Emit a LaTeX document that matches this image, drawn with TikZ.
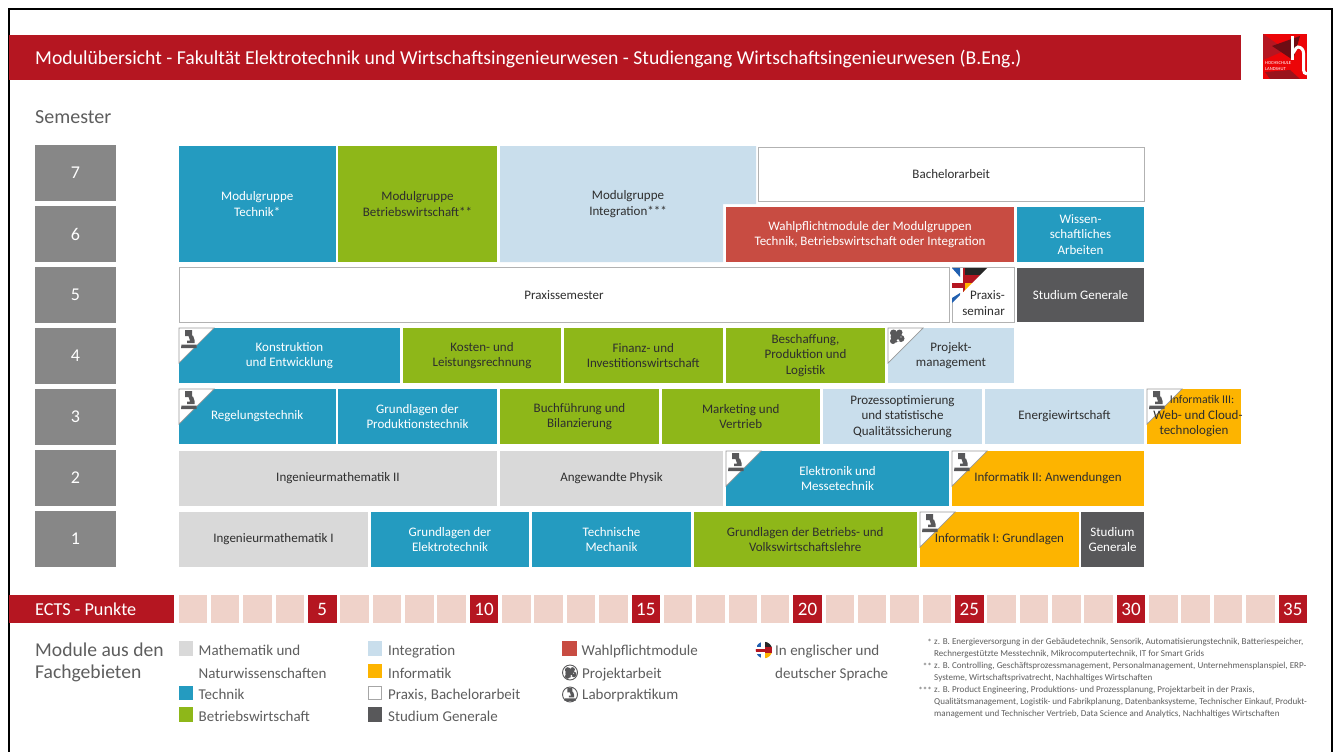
\documentclass[tikz,border=0pt]{standalone}
\usepackage{fontspec}
\setmainfont{Carlito}
\definecolor{hsred}{HTML}{B51621}
\definecolor{cblue}{HTML}{249BC0}
\definecolor{cgreen}{HTML}{8EB719}
\definecolor{clight}{HTML}{C9DEEC}
\definecolor{cgrey}{HTML}{D9D9D9}
\definecolor{corange}{HTML}{FDB400}
\definecolor{cdark}{HTML}{58585A}
\definecolor{cmid}{HTML}{878787}
\definecolor{cwahl}{HTML}{C84C42}
\definecolor{cpink}{HTML}{EFD2C9}
\definecolor{ctext}{HTML}{2E2E2E}
\definecolor{clabel}{HTML}{5E5E5E}
\definecolor{cflagblue}{HTML}{2160B0}
\newcommand{\fs}[2]{\fontsize{#1}{#2}\selectfont}
\tikzset{
  x=1pt,y=-1pt,
  lbl/.style={inner sep=0pt,align=center,font=\fs{13}{15.5}},
  mblue/.style={fill=cblue,text=white},
  mgreen/.style={fill=cgreen,text=ctext},
  mlight/.style={fill=clight,text=ctext},
  mgrey/.style={fill=cgrey,text=ctext},
  morange/.style={fill=corange,text=ctext},
  mdark/.style={fill=cdark,text=white},
  mwahl/.style={fill=cwahl,text=white},
  mwhite/.style={fill=white,draw=black!30,line width=.8pt,text=ctext},
  semester/.style={fill=cmid,text=white,font=\fs{18}{20}},
  ects/.style={fill=cpink},
  ectsred/.style={fill=hsred,text=white,font=\fs{19}{20}},
  legend/.style={anchor=base west,inner sep=0pt,text=clabel,font=\fs{15}{17}},
  foot/.style={anchor=west,inner sep=0pt,text=clabel,font=\fs{9.05}{11}},
  corner/.style={fill=white,draw=black!40,line width=.7pt},
  icon/.style={fill=cdark,draw=none},
}
% box: name, x1, y1, x2, y2, style, text
\newcommand{\modbox}[7]{\path[#6,lbl] (#2,#3) rectangle (#4,#5) node[midway,lbl,fill=none,draw=none] (#1) {#7};}
% microscope icon relative to the corner of a box
\newcommand{\scopeicon}[3]{\begin{scope}[shift={(#1,#2)},scale=#3]
  \fill[icon] (6,2) -- (13,2) -- (13,7.5) -- (14,7.5) -- (15.5,12) -- (15.5,15) -- (8,15) -- (8,12.5) -- (11,12.5) -- (9.5,8) -- (6,8) -- cycle;
  \fill[icon] (2.5,16.5) -- (17.5,16.5) -- (17.5,20) -- (2,20) -- cycle;
\end{scope}}
% cloud-like project icon
\newcommand{\blob}[3]{\begin{scope}[shift={(#1,#2)},scale=#3]
  \fill[icon] (5.5,5) circle (3.5) (11.5,4.5) circle (3) (8,9) circle (5.5) (13,10.5) circle (3.5) (5,13) circle (3);
  \fill[white] (10,12.5) circle (1.3) (13,9) circle (.7);
\end{scope}}
\newcommand{\cornertri}[2]{\path[corner] (#1,#2+35) -- (#1,#2) -- (#1+35,#2) -- cycle;}
% box with a white corner and an icon: name,x1,y1,x2,y2,style,text,icon macro
\newcommand{\modboxc}[8]{\path[#6] (#2,#3) rectangle (#4,#5);
  \cornertri{#2}{#3}#8{#2}{#3}{1}
  \path[#6,fill=none,draw=none] (#2,#3) rectangle (#4,#5) node[midway,lbl,fill=none,draw=none] (#1) {#7};}
\begin{document}
\begin{tikzpicture}
\useasboundingbox (0,0) rectangle (1339,752);
\path[fill=white] (0,0) rectangle (1339,752);
\draw[black,line width=2pt] (8.5,760) -- (8.5,9) -- (1332,9) -- (1332,760);
% header
\path[fill=hsred] (9,35) rectangle (1241,80);
\node[anchor=west,inner sep=0pt,text=white,font=\fs{19.7}{22}] (title) at (35,58.5) {Modulübersicht - Fakultät Elektrotechnik und Wirtschaftsingenieurwesen - Studiengang Wirtschaftsingenieurwesen (B.Eng.)};
% logo
\path[fill=red!75!hsred] (1263,34) rectangle (1307,79);
\fill[hsred] (1263,34) -- (1286,50) -- (1263,60) -- cycle;
\fill[hsred!60!black] (1272,46) -- (1300,36) -- (1293,60) -- cycle;
\fill[hsred!85!black] (1265,72) -- (1290,70) -- (1300,79) -- (1270,79) -- cycle;
\draw[white,line width=3pt] (1292.5,36) -- (1292.5,60);
\draw[white,line width=3pt] (1292.5,52) to[out=-60,in=180] (1298,47) to[out=0,in=90] (1303.5,53) -- (1303.5,70) to[out=-90,in=180] (1307,74);
\node[inner sep=0pt,text=white,align=left,anchor=west,font=\fs{4.6}{5.4}] (logotext) at (1265,66) {HOCHSCHULE\\LANDSHUT};
\node[anchor=west,inner sep=0pt,text=clabel,font=\fs{20}{22}] (semtitle) at (35,117) {Semester};
% semester boxes
\foreach \n/\y in {7/145,6/206,5/267,4/328,3/389,2/450,1/511}{
  \pgfmathsetmacro{\yb}{\y+56}
  \path[semester] (35,\y) rectangle (116,\yb) node[midway,text=white] (sem\n) {\n};
}
% rows 7 and 6
\modbox{mgtech}{179}{146}{335.5}{262}{mblue}{Modulgruppe\\Technik*}
\modbox{mgbw}{338}{146}{497}{262}{mgreen}{Modulgruppe\\Betriebswirtschaft**}
\path[fill=clight] (500,146) -- (756,146) -- (756,204) -- (723,204) -- (723,262) -- (500,262) -- cycle;
\node[lbl,text=ctext] (mgint) at (628,204) {Modulgruppe\\Integration***};
\modbox{bach}{758.5}{147}{1144}{201}{mwhite}{Bachelorarbeit}
\modbox{wahl}{726}{207}{1014}{262}{mwahl}{Wahlpflichtmodule der Modulgruppen\\Technik, Betriebswirtschaft oder Integration}
\modbox{wiss}{1017}{207}{1144}{262}{mblue}{Wissen-\\schaftliches\\Arbeiten}
% row 5
\modbox{praxis}{179}{267.5}{949}{322}{mwhite}{Praxissemester}
\path[mwhite] (952,267.5) rectangle (1014,322);
\modbox{sgfive}{1017}{268}{1144}{322}{mdark}{Studium Generale}
% flag corner
\begin{scope}
  \clip (952,268) -- (987,268) -- (952,303) -- cycle;
  \path[fill=white] (952,268) rectangle (987,303);
  \path[fill=black!85] (963,268) rectangle (990,274.5);
  \path[fill=hsred] (963,274.5) rectangle (990,283);
  \path[fill=corange] (963,283) rectangle (990,300);
  \path[fill=hsred] (952,283) rectangle (963,288);
  \path[fill=hsred] (963,268) rectangle (965,292);
  \path[fill=cflagblue] (952,268) -- (960,268) -- (960,277) -- cycle;
  \path[fill=cflagblue] (952,303) -- (952,298) -- (960,293) -- (960,303) -- cycle;
\end{scope}
\node[lbl,text=ctext,align=right,anchor=east,font=\fs{13}{16}] (pseminar) at (1005,303) {Praxis-\\seminar};
% row 4
\modboxc{konst}{179}{328}{400}{383}{mblue}{Konstruktion\\und Entwicklung}{\scopeicon}
\modbox{kosten}{403}{328}{561}{383}{mgreen}{Kosten- und\\Leistungsrechnung}
\modbox{finanz}{564}{328}{722.5}{383}{mgreen}{Finanz- und\\Investitionswirtschaft}
\modbox{besch}{726}{328}{885}{383}{mgreen}{Beschaffung,\\Produktion und\\Logistik}
\modboxc{proj}{888}{328}{1014}{383}{mlight}{Projekt-\\management}{\blob}
% row 3
\modboxc{regel}{179}{389}{335.5}{444}{mblue}{Regelungstechnik}{\scopeicon}
\modbox{gprod}{338}{389}{497}{444}{mblue}{Grundlagen der\\Produktionstechnik}
\modbox{buch}{500}{389}{659}{444}{mgreen}{Buchführung und\\Bilanzierung}
\modbox{mark}{661.5}{389}{820}{444}{mgreen}{Marketing und\\Vertrieb}
\modbox{prozess}{823}{389}{982}{444}{mlight}{Prozessoptimierung\\und statistische\\Qualitätssicherung}
\modbox{energie}{985}{389}{1144}{444}{mlight}{Energiewirtschaft}
\modboxc{infdrei}{1147}{389}{1241}{444}{morange}{\fs{11.8}{13.5}\hspace*{16pt}Informatik III:\\\hspace*{8pt}Web- und Cloud-\\technologien}{\scopeicon}
% row 2
\modbox{imzwei}{179}{451}{497}{506}{mgrey}{Ingenieurmathematik II}
\modbox{physik}{500}{451}{723}{506}{mgrey}{Angewandte Physik}
\modboxc{elektr}{726}{451}{949}{506}{mblue}{Elektronik und\\Messetechnik}{\scopeicon}
\modboxc{infzwei}{952}{451}{1144}{506}{morange}{Informatik II: Anwendungen}{\scopeicon}
% row 1
\modbox{imeins}{179}{512}{368}{567}{mgrey}{Ingenieurmathematik I}
\modbox{gelek}{371}{512}{529}{567}{mblue}{Grundlagen der\\Elektrotechnik}
\modbox{mech}{532}{512}{691}{567}{mblue}{Technische\\Mechanik}
\modbox{gbwl}{693.5}{512}{917}{567}{mgreen}{Grundlagen der Betriebs- und\\Volkswirtschaftslehre}
\modboxc{infeins}{920}{512}{1079}{567}{morange}{Informatik I: Grundlagen}{\scopeicon}
\modbox{sgeins}{1081}{512}{1144}{567}{mdark}{Studium\\Generale}
% ECTS
\path[fill=hsred] (9,595) rectangle (174,623);
\node[anchor=west,inner sep=0pt,text=white,font=\fs{18.2}{19}] (ectstitle) at (35,609) {ECTS - Punkte};
\foreach \i in {1,...,35}{
  \pgfmathsetmacro{\xa}{178.6+(\i-1)*32.35}
  \pgfmathsetmacro{\xb}{\xa+28.5}
  \pgfmathtruncatemacro{\m}{mod(\i,5)}
  \ifnum\m=0
    \path[ectsred] (\xa,595) rectangle (\xb,623) node[midway,text=white] (ects\i) {\i};
  \else
    \path[ects] (\xa,595) rectangle (\xb,623);
  \fi
}
% legend
\node[anchor=west,inner sep=0pt,align=left,text=clabel,font=\fs{19.6}{22}] (modl) at (35,662.5) {Module aus den\\Fachgebieten};
\path[fill=cgrey] (178.5,641) rectangle (192.5,655.5);
\node[legend] (l1) at (198.5,655) {Mathematik und};
\node[legend] (l1b) at (198.5,678) {Naturwissenschaften};
\path[fill=cblue] (178.5,685.5) rectangle (192.5,700);
\node[legend] (l2) at (198.5,699.5) {Technik};
\path[fill=cgreen] (178.5,707) rectangle (192.5,721.5);
\node[legend] (l3) at (198.5,721) {Betriebswirtschaft};
\path[fill=clight] (368,641) rectangle (382,655.5);
\node[legend] (l4) at (388,655) {Integration};
\path[fill=corange] (368,664) rectangle (382,678);
\node[legend] (l5) at (388,678) {Informatik};
\path[fill=white,draw=black!35,line width=.7pt] (368.5,686) rectangle (381.5,699.5);
\node[legend] (l6) at (388,699.5) {Praxis, Bachelorarbeit};
\path[fill=cdark] (368,707) rectangle (382,721.5);
\node[legend] (l7) at (388,721) {Studium Generale};
\path[fill=cwahl] (562,641) rectangle (576.5,655.5);
\node[legend] (l8) at (581.5,655) {Wahlpflichtmodule};
\draw[cdark,fill=white,line width=.9pt] (570,672.5) circle (7.5);
\blob{563.3}{666}{.8}
\node[legend] (l9) at (582,678) {Projektarbeit};
\draw[cdark,fill=white,line width=.9pt] (570,694.5) circle (7.5);
\scopeicon{563}{686.5}{.72}
\node[legend] (l10) at (582,699.5) {Laborpraktikum};
% flag circle
\begin{scope}
  \clip (764,650) circle (8.3);
  \path[fill=white] (755,641) rectangle (773,659);
  \path[fill=cflagblue] (757,642) rectangle (761,647);
  \path[fill=cflagblue] (757,654) rectangle (761,658);
  \path[fill=hsred] (755,649) rectangle (765,651.5);
  \path[fill=black!85] (765,641) rectangle (773,647);
  \path[fill=hsred] (765,647) rectangle (773,653);
  \path[fill=corange] (765,653) rectangle (773,659);
\end{scope}
\node[legend] (l11) at (775,655) {In englischer und};
\node[legend] (l12) at (775,678) {deutscher Sprache};
% footnotes
\node[foot,anchor=east] (s1) at (932,642) {*};
\node[foot] (f1) at (934,642.5) {z. B. Energieversorgung in der Gebäudetechnik, Sensorik, Automatisierungstechnik, Batteriespeicher,};
\node[foot] (f1b) at (934,654) {Rechnergestützte Messtechnik, Mikrocomputertechnik, IT for Smart Grids};
\node[foot,anchor=east] (s2) at (932,666) {**};
\node[foot] (f2) at (934,666.5) {z. B. Controlling, Geschäftsprozessmanagement, Personalmanagement, Unternehmensplanspiel, ERP-};
\node[foot] (f2b) at (934,678.5) {Systeme, Wirtschaftsprivatrecht, Nachhaltiges Wirtschaften};
\node[foot,anchor=east] (s3) at (932,690) {***};
\node[foot] (f3) at (934,690.5) {z. B. Product Engineering, Produktions- und Prozessplanung, Projektarbeit in der Praxis,};
\node[foot] (f3b) at (934,702.5) {Qualitätsmanagement, Logistik- und Fabrikplanung, Datenbanksysteme, Technischer Einkauf, Produkt-};
\node[foot] (f3c) at (934,714.5) {management und Technischer Vertrieb, Data Science and Analytics, Nachhaltiges Wirtschaften};
\end{tikzpicture}
\end{document}
